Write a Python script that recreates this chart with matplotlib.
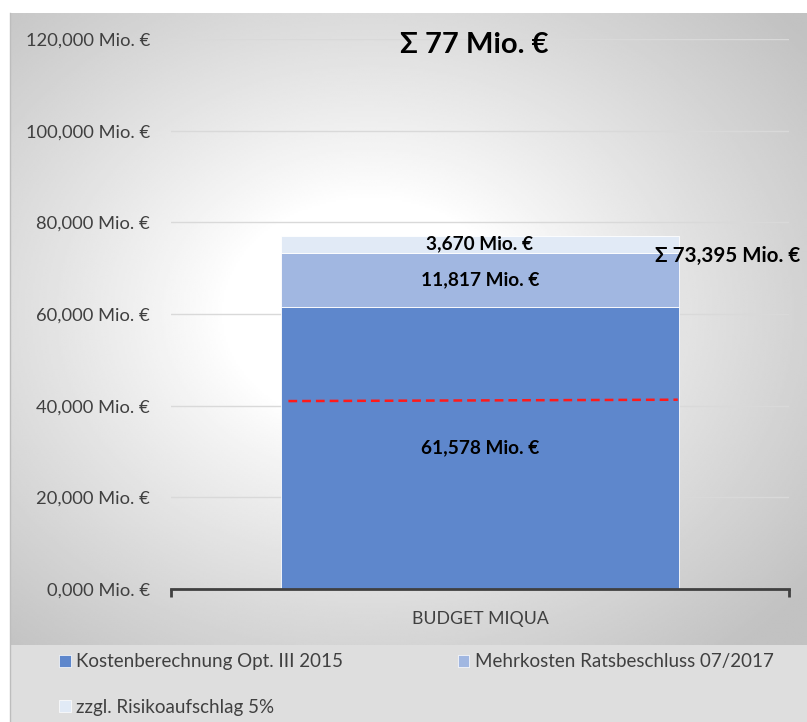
# plot.py - stacked budget bar (MiQua) with gradient panel
import numpy as np
import matplotlib.pyplot as plt
from matplotlib.patches import Patch

plt.rcParams['font.family'] = ['Lato', 'DejaVu Sans']

category = "BUDGET MIQUA"
series_names = ["Kostenberechnung Opt. III 2015",
                "Mehrkosten Ratsbeschluss 07/2017",
                "zzgl. Risikoaufschlag 5%"]
series_values = [61.578, 11.817, 3.670]
series_labels = ["61,578 Mio. €", "11,817 Mio. €", "3,670 Mio. €"]
series_colors = ["#5e87cc", "#a1b7e1", "#e1eaf6"]

yticks = [0, 20, 40, 60, 80, 100, 120]
ytick_labels = ["0,000 Mio. €", "20,000 Mio. €", "40,000 Mio. €", "60,000 Mio. €",
                "80,000 Mio. €", "100,000 Mio. €", "120,000 Mio. €"]

subtotal_label = "Σ 73,395 Mio. €"
subtotal_value = 72.7
total_label = "Σ 77 Mio. €"
total_value = 118.7

# red dashed reference line across the bar
ref_x = [-0.31, 0.32]
ref_y = [41.0, 41.3]

W, H = 807, 722
fig = plt.figure(figsize=(W / 100, H / 100), dpi=100)

# background: radial gray gradient panel + legend strip
bg = fig.add_axes([0, 0, 1, 1], zorder=-5)
bg.set_xlim(0, W); bg.set_ylim(H, 0); bg.axis("off")
px0, px1, py0, py1 = 10, W, 13, 645
xx, yy = np.meshgrid(np.linspace(-1, 1, 400), np.linspace(-1, 1, 320))
r = np.sqrt((xx + 0.1) ** 2 + (yy + 0.05) ** 2)
shade = 1 - 0.24 * np.clip((r - 0.36) / (1.41 - 0.36), 0, 1) ** 0.9
bg.imshow(shade, cmap="gray", vmin=0, vmax=1, extent=[px0, px1, py1, py0],
          aspect="auto", interpolation="bilinear")
bg.add_patch(plt.Rectangle((px0, py1), px1 - px0, H - py1, color="#dedede", lw=0))
bg.plot([px0, px0], [py0, H], color="#bdbdbd", lw=1)

ax = fig.add_axes([171 / W, 1 - 589 / H, (789 - 171) / W, (589 - 39) / H])
ax.patch.set_alpha(0)

bottom = 0
for val, lab, col, name in zip(series_values, series_labels, series_colors, series_names):
    ax.bar(0, val, width=0.644, bottom=bottom, color=col, label=name, zorder=2,
           edgecolor="white", linewidth=0.6)
    ax.text(0, bottom + val / 2, lab, ha="center", va="center", fontsize=13.7,
            fontweight="bold", color="black", zorder=4)
    bottom += val

ax.plot(ref_x, ref_y, color="#ff1a1a", lw=1.8, ls=(0, (3.5, 2)), zorder=3)

ax.text(0.518, subtotal_value, subtotal_label, ha="right", va="center", fontsize=14.8,
        fontweight="bold", color="black", clip_on=False)
ax.text(-0.01, total_value, total_label, ha="center", va="center", fontsize=21,
        fontweight="bold", color="black")

ax.set_xlim(-0.5, 0.5)
ax.set_ylim(0, 120)
ax.set_yticks(yticks)
ax.set_yticklabels(ytick_labels)
ax.set_xticks([0])
ax.set_xticklabels([category])
ax.set_xticks([-0.5, 0.5], minor=True)
ax.tick_params(axis="x", which="major", length=0, pad=16, labelsize=12.7, labelcolor="#404040")
ax.tick_params(axis="x", which="minor", length=6, width=2, color="#404040")
ax.tick_params(axis="y", length=0, pad=15, labelsize=13.2, labelcolor="#404040")
ax.grid(axis="y", color="#d9d9d9", lw=1, zorder=0)
ax.set_axisbelow(True)
for s in ("top", "right", "left"):
    ax.spines[s].set_visible(False)
ax.spines["bottom"].set_color("#404040")
ax.spines["bottom"].set_linewidth(2)
ax.spines["bottom"].set_zorder(5)

# column-major fill: first two entries in row 1, third in row 2
order = [0, 2, 1]
handles = [Patch(facecolor=series_colors[i], edgecolor="white", lw=0.5) for i in order]
labels = [series_names[i] for i in order]
fig.legend(handles, labels, loc="upper left", bbox_to_anchor=(52 / W, 1 - 646 / H),
           ncol=2, frameon=False, fontsize=13.5, labelcolor="#404040",
           handlelength=0.6, handleheight=0.6, handletextpad=0.3,
           columnspacing=6.1, labelspacing=1.5, borderaxespad=0)

fig.savefig("out.png", dpi=100)
